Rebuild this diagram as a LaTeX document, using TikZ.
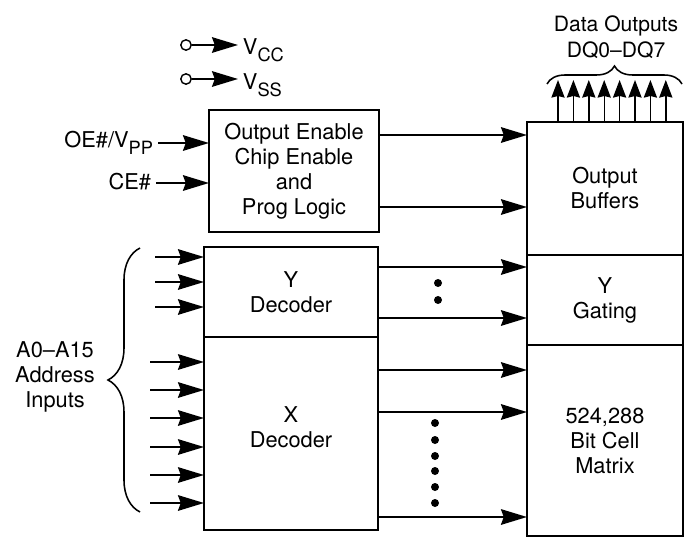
\documentclass[tikz,border=0pt]{standalone}
\usepackage{fontspec}
\setmainfont{TeX Gyre Heros}
\usetikzlibrary{arrows.meta,positioning,decorations.pathreplacing}
\newcommand{\lowsub}[1]{\raisebox{-0.32em}{\fontsize{13}{13}\selectfont #1}}

\begin{document}
\begin{tikzpicture}[x=0.025cm,y=-0.025cm,font=\fontsize{15.5}{17.8}\selectfont,
  blk/.style={draw,line width=1.8pt,inner sep=0pt,outer sep=0pt,align=center},
  arr/.style={line width=1.3pt,-{Stealth[length=6.5mm,width=3.9mm,inset=0.7mm]}},
  oarr/.style={line width=1pt,-{Stealth[length=4.4mm,width=3.3mm,inset=0.4mm]}},
  brc/.style={line width=1.1pt,decorate}]
  \useasboundingbox (0,0) rectangle (684,538);

  % blocks
  \node[blk,minimum width=4.25cm,minimum height=3.05cm] (ctl) at (294,171) {Output Enable\\Chip Enable\\and\\Prog Logic};
  \node[blk,minimum width=4.35cm,minimum height=2.25cm] (ydec) at (291,292) {Y\\Decoder};
  \node[blk,minimum width=4.35cm,minimum height=4.825cm,below=0pt of ydec] (xdec) {X\\Decoder\\[-8pt]};
  \node[blk,minimum width=3.9cm,minimum height=3.325cm] (ob) at (605,188.5) {Output\\Buffers};
  \node[blk,minimum width=3.9cm,minimum height=2.25cm,below=0pt of ob] (yg) {Y\\Gating};
  \node[blk,minimum width=3.9cm,minimum height=4.775cm,below=0pt of yg] (mx) {524,288\\Bit Cell\\Matrix};

  % supply pins
  \node[draw,circle,line width=1pt,inner sep=0pt,minimum size=0.26cm] (vccpin) at (186,45) {};
  \node[draw,circle,line width=1pt,inner sep=0pt,minimum size=0.26cm] (vsspin) at (186,79) {};
  \node[anchor=base west] (vcc) at (238,55) {V\lowsub{CC}};
  \node[anchor=base west] (vss) at (238,90) {V\lowsub{SS}};
  \draw[arr] (vccpin) -- (vccpin -| vcc.west);
  \draw[arr] (vsspin) -- (vsspin -| vss.west);

  % control inputs
  \node[anchor=base east] (oe) at (158,148) {OE\#/V\lowsub{PP}};
  \node[anchor=base east] (ce) at (156,190) {CE\#};
  \draw[arr] (oe.east |- 0,143) -- (ctl.west |- 0,143);
  \draw[arr] (ce.east |- 0,183) -- (ctl.west |- 0,183);

  % address inputs
  \foreach \y [count=\i] in {257,282,307} {
    \coordinate (ya\i) at (155,\y);
    \draw[arr] (ya\i) -- (ydec.west |- ya\i);
  }
  \foreach \y [count=\i] in {362,390,418,447,475,503} {
    \coordinate (xa\i) at (150,\y);
    \draw[arr] (xa\i) -- (xdec.west |- xa\i);
  }
  \draw[brc,decoration={brace,amplitude=0.8cm}] (140,512) -- (140,248);
  \node[align=center] (addr) at (55,377) {A0--A15\\Address\\Inputs};

  % internal connections
  \foreach \y in {135,207} \draw[arr] (ctl.east |- 0,\y) -- (ob.west |- 0,\y);
  \foreach \y in {267,318} \draw[arr] (ydec.east |- 0,\y) -- (yg.west |- 0,\y);
  \foreach \y in {370,412,517} \draw[arr] (xdec.east |- 0,\y) -- (mx.west |- 0,\y);
  \foreach \y in {283,300} \fill (438,\y) circle (0.1cm);
  \foreach \y in {423,440,456,471,487,503} \fill (435,\y) circle (0.1cm);

  % data outputs
  \foreach \i in {0,...,7} {
    \coordinate (q\i) at ({558+15.4*\i},80);
    \draw[oarr] (q\i |- ob.north) -- (q\i);
  }
  \draw[brc,decoration={brace,amplitude=0.45cm}] (547,84) -- (682,84);
  \node[align=center,font=\fontsize{15}{18.5}\selectfont] (dq) at (616,37) {Data Outputs\\DQ0--DQ7};
\end{tikzpicture}
\end{document}
